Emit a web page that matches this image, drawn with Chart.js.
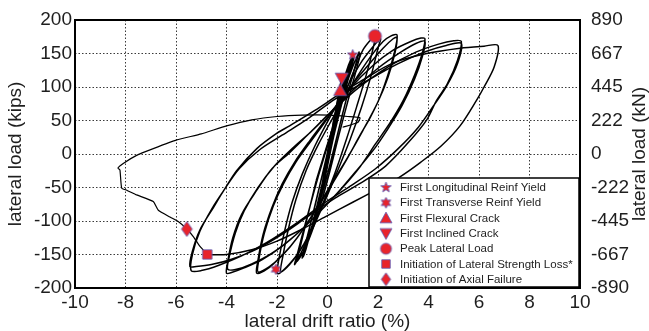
<!DOCTYPE html>
<html>
<head>
<meta charset="utf-8">
<script src="https://cdn.jsdelivr.net/npm/chart.js@4"></script>
<style>
html, body { margin: 0; padding: 0; background: #fff; }
</style>
</head>
<body>
<canvas id="chart" width="649" height="331"></canvas>
<script>
// hysteresis, [drift %, load kips], in test order
const preCrack = [
    [0, 0], [0.08, 18], [0.15, 34], [0.1, 22], [0, -2], [-0.08, -20], [-0.15, -38], [-0.1, -28], [0, -8],
    [0.12, 22], [0.28, 58], [0.22, 44], [0.05, 8], [-0.12, -30], [-0.28, -60], [-0.2, -46], [-0.02, -12],
    [0.2, 38], [0.4, 78], [0.5, 95], [0.42, 80], [0.2, 35], [-0.05, -18], [-0.3, -65], [-0.45, -88], [-0.36, -74], [-0.1, -28]
];
const preYield = [
    [-0.1, -28], [0.15, 20], [0.38, 72], [0.56, 113], [0.48, 98], [0.25, 50], [-0.05, -12], [-0.35, -72], [-0.6, -112], [-0.5, -100], [-0.22, -52],
    [0.05, 0], [0.35, 65], [0.7, 118], [1.0, 148], [0.9, 135], [0.55, 88], [0.2, 28], [-0.2, -45], [-0.6, -105], [-0.96, -153], [-0.85, -142], [-0.5, -90],
    [-0.15, -35], [0.25, 38], [0.7, 110], [1.05, 145], [0.95, 130], [0.6, 80], [0.22, 22], [-0.15, -45], [-0.55, -105], [-1.0, -155], [-0.9, -140], [-0.55, -85],
    [-0.2, -30], [0.2, 35], [0.6, 100], [0.95, 140], [0.88, 128], [0.5, 72], [0.15, 15], [-0.25, -55], [-0.65, -115], [-0.98, -150], [-0.88, -135], [-0.5, -78],
    [-0.1, -15], [0.4, 60], [0.85, 115], [1.25, 152], [1.15, 138], [0.8, 90], [0.4, 30], [0, -30], [-0.45, -90], [-0.9, -135], [-1.3, -165], [-1.2, -150], [-0.85, -100],
    [-0.4, -38], [0.1, 25], [0.55, 85], [1.1, 140], [1.3, 150], [1.2, 134], [0.85, 85], [0.45, 28], [0.05, -32], [-0.4, -92], [-0.85, -138], [-1.2, -160],
    [-1.1, -142], [-0.8, -95], [-0.45, -40]
];
const peakCycles = [
    [-0.45, -40], [0, 15], [0.5, 70], [1.0, 120], [1.4, 155], [1.7, 170], [1.88, 176], [1.82, 160], [1.55, 120], [1.15, 70], [0.75, 22], [0.3, -28],
    [-0.2, -75], [-0.7, -118], [-1.2, -150], [-1.6, -168], [-1.9, -178], [-2.0, -178], [-1.93, -158], [-1.7, -115], [-1.4, -72], [-1.0, -30], [-0.5, 12],
    [0.1, 55], [0.7, 95], [1.3, 135], [1.8, 160], [2.1, 172], [2.0, 158], [1.75, 120], [1.35, 70], [0.9, 22], [0.4, -25], [-0.1, -70], [-0.6, -112],
    [-1.1, -145], [-1.5, -165], [-1.85, -176], [-1.78, -155], [-1.55, -112], [-1.25, -68], [-0.85, -25], [-0.35, 15], [0.3, 60]
];
const cycles2p75 = [
    [0.3, 60], [1.0, 105], [1.7, 145], [2.2, 168], [2.5, 176], [2.75, 178], [2.7, 160], [2.45, 125], [2.08, 85], [1.7, 55], [1.29, 28], [0.7, -12],
    [0.1, -50], [-0.6, -92], [-1.3, -130], [-1.9, -155], [-2.4, -172], [-2.8, -178], [-2.76, -160], [-2.55, -120], [-2.2, -80], [-1.8, -45], [-1.3, -12],
    [-0.7, 20], [0, 55], [0.8, 95], [1.6, 132], [2.2, 158], [2.6, 172], [2.75, 174], [2.68, 152], [2.4, 115], [2.0, 78], [1.4, 35], [0.8, -5], [0.2, -42],
    [-0.5, -85], [-1.2, -125], [-1.8, -152], [-2.3, -168], [-2.75, -176], [-2.72, -158], [-2.5, -118], [-2.15, -78], [-1.75, -45], [-1.25, -12], [-0.6, 22], [0.1, 58]
];
const cycles3p86 = [
    [0.1, 58], [0.9, 98], [1.8, 132], [2.6, 155], [3.3, 168], [3.7, 173], [3.86, 172], [3.75, 150], [3.45, 118], [3.0, 80], [2.5, 48], [1.9, 15], [1.29, -19],
    [0.6, -50], [-0.2, -82], [-1.0, -112], [-1.8, -138], [-2.6, -158], [-3.3, -170], [-3.8, -177], [-4.0, -178], [-3.95, -160], [-3.75, -125], [-3.4, -90],
    [-2.8, -54], [-2.2, -22], [-1.5, 2], [-0.8, 28], [0, 58], [1.0, 95], [2.0, 128], [2.9, 152], [3.5, 165], [3.86, 168], [3.76, 146], [3.45, 112], [2.95, 72],
    [2.4, 38], [1.8, 5], [1.1, -27], [0.4, -58], [-0.4, -90], [-1.3, -122], [-2.2, -148], [-3.0, -164], [-3.6, -172], [-3.95, -172], [-3.9, -155], [-3.65, -118],
    [-3.3, -85], [-2.75, -50], [-2.1, -18], [-1.4, 8], [-0.6, 35], [0.2, 65]
];
const cycles5p3 = [
    [0.2, 65], [1.2, 98], [2.4, 130], [3.5, 152], [4.4, 164], [5.0, 169], [5.3, 168], [5.15, 140], [4.75, 105], [4.32, 80], [3.93, 51], [3.2, 17], [2.3, -18],
    [1.29, -44], [0.3, -66], [-0.8, -94], [-1.8, -120], [-2.8, -142], [-3.8, -157], [-4.6, -165], [-5.2, -168], [-5.45, -168], [-5.35, -145], [-5.05, -113],
    [-4.5, -79], [-4.1, -54], [-3.5, -22], [-2.7, 6], [-1.8, 28], [-0.8, 52], [0.3, 82], [1.5, 108], [2.8, 135], [3.9, 153], [4.7, 162], [5.3, 165], [5.15, 135],
    [4.7, 100], [4.2, 72], [3.6, 40], [2.8, 8], [1.9, -22], [0.9, -48], [-0.2, -75], [-1.3, -105], [-2.4, -132], [-3.4, -152], [-4.3, -166], [-5.0, -174],
    [-5.4, -174], [-5.35, -150], [-5.05, -115], [-4.55, -80], [-4.1, -54], [-3.6, -25], [-2.8, 8], [-2.0, 31], [-1.5, 42], [-0.5, 65], [0.5, 90], [1.29, 108]
];
const lastCycle = [
    [1.29, 108], [2.6, 136], [3.93, 150], [5.25, 158], [6.2, 161], [6.75, 162], [6.6, 130], [6.2, 100], [5.9, 80], [5.25, 42], [4.5, 12], [3.7, -12],
    [2.87, -34], [2.0, -52], [1.0, -72], [0, -92], [-1.0, -112], [-2.0, -130], [-3.0, -143], [-4.0, -150], [-4.76, -150]
];
const axialPush = [
    [-4.76, -150], [-5.05, -138], [-5.3, -124], [-5.57, -112], [-5.9, -101], [-6.24, -94], [-6.7, -84], [-6.9, -71], [-7.56, -61], [-7.95, -54],
    [-8.15, -51], [-8.22, -24], [-8.3, -21], [-8.09, -14], [-7.56, -2], [-6.9, 8], [-5.97, 21], [-5.0, 30], [-4.0, 42], [-3.0, 51], [-2.0, 56],
    [-1.0, 58], [0.1, 58], [0.8, 56], [1.29, 54], [1.2, 47], [0.6, 40]
];

const markerLabels = ['First Longitudinal Reinf Yield', 'First Transverse Reinf Yield', 'First Flexural Crack', 'First Inclined Crack',
    'Peak Lateral Load', 'Initiation of Lateral Strength Loss*', 'Initiation of Axial Failure'];
const markerShapes = ['star5', 'star6', 'tri', 'triDown', 'circle', 'square', 'diamond'];
const markerDrift = [1.0, -2.04, 0.5, 0.56, 1.88, -4.76, -5.57];
const markerLoad = [148, -172, 95, 113, 176, -150, -112];

const kNLabels = ['-890', '-667', '-445', '-222', '0', '222', '445', '667', '890'];

const FONT = "'Liberation Sans', Arial, sans-serif";
const TXT = '#1e1e1e';

function makeMarker(shape, size) {
    const c = document.createElement('canvas');
    c.width = c.height = Math.ceil(size + 4);
    const ctx = c.getContext('2d');
    const m = c.width / 2, r = size / 2;
    ctx.beginPath();
    if (shape === 'star5' || shape === 'star6') {
        const n = shape === 'star5' ? 5 : 6;
        const inner = shape === 'star5' ? 0.42 : 0.55;
        for (let i = 0; i < n * 2; i++) {
            const a = -Math.PI / 2 + i * Math.PI / n;
            const rr = i % 2 ? r * inner : r;
            ctx.lineTo(m + rr * Math.cos(a), m + rr * Math.sin(a));
        }
    } else if (shape === 'tri') {
        ctx.moveTo(m, m - r);
        ctx.lineTo(m + r, m + r * 0.8);
        ctx.lineTo(m - r, m + r * 0.8);
    } else if (shape === 'triDown') {
        ctx.moveTo(m, m + r);
        ctx.lineTo(m + r, m - r * 0.8);
        ctx.lineTo(m - r, m - r * 0.8);
    } else if (shape === 'circle') {
        ctx.arc(m, m, r, 0, Math.PI * 2);
    } else if (shape === 'square') {
        ctx.rect(m - r * 0.85, m - r * 0.85, r * 1.7, r * 1.7);
    } else if (shape === 'diamond') {
        ctx.moveTo(m, m - r);
        ctx.lineTo(m + r * 0.72, m);
        ctx.lineTo(m, m + r);
        ctx.lineTo(m - r * 0.72, m);
    }
    ctx.closePath();
    ctx.fillStyle = '#e8232b';
    ctx.fill();
    ctx.lineWidth = 0.8;
    ctx.strokeStyle = '#5a5ab8';
    ctx.stroke();
    return c;
}

const plotSizes = { star5: 11, star6: 11, tri: 13, triDown: 13, circle: 13, square: 11, diamond: 15 };
const legendSizes = { star5: 11, star6: 11, tri: 12, triDown: 12, circle: 11, square: 10, diamond: 13 };
const legendIcons = markerShapes.map(s => makeMarker(s, legendSizes[s]));

const toPoints = arr => arr.map(p => ({ x: p[0], y: p[1] }));
const loopSet = (data, tension) => ({
    data: toPoints(data),
    showLine: true,
    borderColor: '#000',
    borderWidth: 1.5,
    pointRadius: 0,
    tension: tension,
    order: 2
});

const datasets = [
    loopSet(preCrack, 0.3),
    loopSet(preYield, 0.3),
    loopSet(peakCycles, 0.3),
    loopSet(cycles2p75, 0.3),
    loopSet(cycles3p86, 0.3),
    loopSet(cycles5p3, 0.3),
    loopSet(lastCycle, 0.3),
    loopSet(axialPush, 0.15)
];
datasets[7].borderWidth = 1.2;
markerLabels.forEach((label, i) => {
    datasets.push({
        label: label,
        isMarker: true,
        data: [{ x: markerDrift[i], y: markerLoad[i] }],
        pointStyle: makeMarker(markerShapes[i], plotSizes[markerShapes[i]]),
        pointRadius: 5,
        showLine: false,
        order: 0
    });
});

const extras = {
    id: 'extras',
    afterDatasetsDraw(chart) {
        const ctx = chart.ctx, a = chart.chartArea;
        // legend box
        const bx = a.right - 211, by = a.bottom - 110, bw = 210, bh = 109;
        ctx.save();
        ctx.fillStyle = '#fff';
        ctx.fillRect(bx, by, bw, bh);
        ctx.strokeStyle = '#000';
        ctx.lineWidth = 1.5;
        ctx.strokeRect(bx, by, bw, bh);
        ctx.font = '11.5px ' + FONT;
        ctx.fillStyle = TXT;
        ctx.textBaseline = 'middle';
        markerLabels.forEach((label, i) => {
            const y = by + 9.5 + i * 15.3;
            const icon = legendIcons[i];
            ctx.drawImage(icon, bx + 17 - icon.width / 2, y - icon.height / 2);
            ctx.fillText(label, bx + 31, y + 0.5);
        });
        // axes frame
        ctx.lineWidth = 2;
        ctx.strokeRect(a.left, a.top, a.right - a.left, a.bottom - a.top);
        // right axis title, reading bottom to top
        ctx.translate(640, (a.top + a.bottom) / 2);
        ctx.rotate(-Math.PI / 2);
        ctx.font = '19px ' + FONT;
        ctx.textAlign = 'center';
        ctx.fillText('lateral load (kN)', 0, 0);
        ctx.restore();
    }
};

const tickFont = { family: FONT, size: 19 };
const gridOpts = { color: '#3a3a3a', lineWidth: 1, drawTicks: false };
const borderOpts = { display: false, dash: [1.5, 2] };

new Chart(document.getElementById('chart'), {
    type: 'scatter',
    data: { datasets },
    options: {
        responsive: false,
        animation: false,
        devicePixelRatio: 1,
        events: [],
        layout: { padding: { top: 20, left: 0, right: 0, bottom: 0 } },
        plugins: { legend: { display: false }, tooltip: { enabled: false } },
        scales: {
            x: {
                type: 'linear', min: -10, max: 10,
                ticks: { stepSize: 2, font: tickFont, color: TXT, padding: 3, autoSkip: false, maxRotation: 0 },
                grid: gridOpts, border: borderOpts,
                title: { display: true, text: 'lateral drift ratio (%)', font: { family: FONT, size: 19, lineHeight: 1 }, color: TXT, padding: 0 },
                afterFit: s => { s.height = 43; }
            },
            y: {
                min: -200, max: 200,
                ticks: { stepSize: 50, font: tickFont, color: TXT, padding: 3 },
                grid: gridOpts, border: borderOpts,
                title: { display: true, text: 'lateral load (kips)', font: { family: FONT, size: 19, lineHeight: 1 }, color: TXT, padding: { top: 6, bottom: 0 } },
                afterFit: s => { s.width = 75; }
            },
            y2: {
                position: 'right', min: -200, max: 200,
                ticks: { stepSize: 50, font: tickFont, color: TXT, padding: 3, callback: v => kNLabels[(v + 200) / 50] },
                grid: { display: false }, border: { display: false },
                afterFit: s => { s.width = 69; }
            }
        }
    },
    plugins: [extras]
});
</script>
</body>
</html>
